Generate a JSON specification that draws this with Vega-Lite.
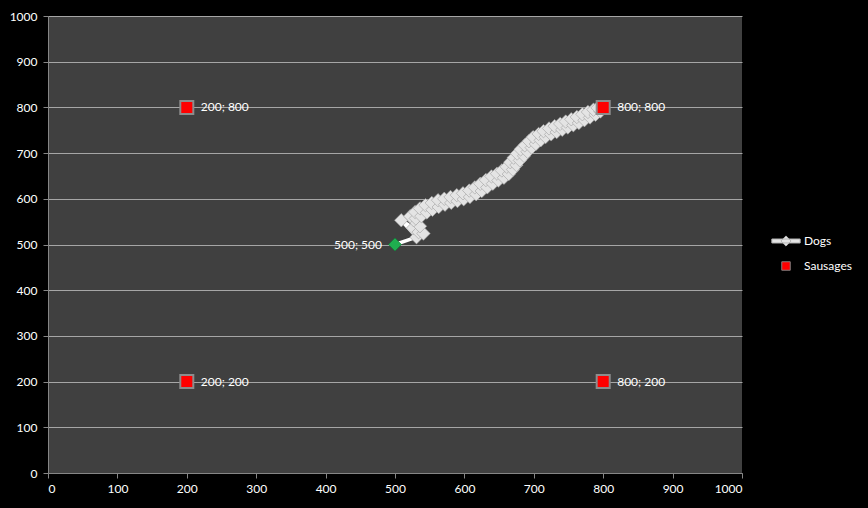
{
  "$schema": "https://vega.github.io/schema/vega-lite/v6.json",
  "width": 694,
  "height": 457,
  "autosize": {"type": "none"},
  "padding": {"left": 48, "top": 16, "right": 126, "bottom": 35},
  "background": "#000000",
  "config": {
    "view": {"fill": "#404040", "stroke": null},
    "font": "Lato",
    "axis": {
      "labelColor": "#ffffff",
      "labelFont": "Lato",
      "labelFontSize": 12,
      "domainColor": "#868686",
      "domainWidth": 1,
      "tickColor": "#868686",
      "tickSize": 5,
      "title": null,
      "format": "d"
    },
    "legend": {
      "title": null,
      "orient": "none",
      "labelColor": "#ffffff",
      "labelFont": "Lato",
      "labelFontSize": 12,
      "labelOffset": 10,
      "symbolSize": 200,
      "symbolOpacity": 1,
      "symbolStrokeWidth": 1
    }
  },
  "datasets": {
    "dogs": [
      {"step": 0, "x": 500, "y": 500},
      {"step": 1, "x": 531, "y": 516},
      {"step": 2, "x": 509, "y": 553},
      {"step": 3, "x": 526, "y": 536},
      {"step": 4, "x": 534, "y": 527},
      {"step": 5, "x": 541, "y": 524},
      {"step": 6, "x": 536, "y": 540},
      {"step": 7, "x": 527, "y": 553},
      {"step": 8, "x": 522, "y": 562},
      {"step": 9, "x": 530, "y": 557},
      {"step": 10, "x": 529, "y": 571},
      {"step": 11, "x": 538, "y": 562},
      {"step": 12, "x": 536, "y": 579},
      {"step": 13, "x": 546, "y": 570},
      {"step": 14, "x": 544, "y": 586},
      {"step": 15, "x": 554, "y": 576},
      {"step": 16, "x": 553, "y": 591},
      {"step": 17, "x": 563, "y": 582},
      {"step": 18, "x": 562, "y": 597},
      {"step": 19, "x": 572, "y": 587},
      {"step": 20, "x": 571, "y": 600},
      {"step": 21, "x": 581, "y": 591},
      {"step": 22, "x": 580, "y": 604},
      {"step": 23, "x": 590, "y": 595},
      {"step": 24, "x": 589, "y": 608},
      {"step": 25, "x": 599, "y": 599},
      {"step": 26, "x": 598, "y": 612},
      {"step": 27, "x": 608, "y": 604},
      {"step": 28, "x": 607, "y": 618},
      {"step": 29, "x": 617, "y": 610},
      {"step": 30, "x": 615, "y": 625},
      {"step": 31, "x": 625, "y": 617},
      {"step": 32, "x": 623, "y": 633},
      {"step": 33, "x": 633, "y": 625},
      {"step": 34, "x": 631, "y": 641},
      {"step": 35, "x": 641, "y": 633},
      {"step": 36, "x": 639, "y": 649},
      {"step": 37, "x": 649, "y": 640},
      {"step": 38, "x": 647, "y": 655},
      {"step": 39, "x": 657, "y": 646},
      {"step": 40, "x": 654, "y": 662},
      {"step": 41, "x": 664, "y": 654},
      {"step": 42, "x": 661, "y": 670},
      {"step": 43, "x": 670, "y": 664},
      {"step": 44, "x": 666, "y": 680},
      {"step": 45, "x": 675, "y": 674},
      {"step": 46, "x": 671, "y": 690},
      {"step": 47, "x": 680, "y": 684},
      {"step": 48, "x": 676, "y": 699},
      {"step": 49, "x": 686, "y": 694},
      {"step": 50, "x": 681, "y": 708},
      {"step": 51, "x": 691, "y": 703},
      {"step": 52, "x": 687, "y": 717},
      {"step": 53, "x": 697, "y": 712},
      {"step": 54, "x": 693, "y": 726},
      {"step": 55, "x": 703, "y": 720},
      {"step": 56, "x": 699, "y": 735},
      {"step": 57, "x": 710, "y": 728},
      {"step": 58, "x": 707, "y": 742},
      {"step": 59, "x": 717, "y": 735},
      {"step": 60, "x": 714, "y": 748},
      {"step": 61, "x": 725, "y": 741},
      {"step": 62, "x": 722, "y": 754},
      {"step": 63, "x": 733, "y": 746},
      {"step": 64, "x": 730, "y": 759},
      {"step": 65, "x": 741, "y": 751},
      {"step": 66, "x": 738, "y": 764},
      {"step": 67, "x": 749, "y": 756},
      {"step": 68, "x": 746, "y": 769},
      {"step": 69, "x": 757, "y": 761},
      {"step": 70, "x": 754, "y": 774},
      {"step": 71, "x": 765, "y": 766},
      {"step": 72, "x": 762, "y": 779},
      {"step": 73, "x": 773, "y": 772},
      {"step": 74, "x": 770, "y": 785},
      {"step": 75, "x": 781, "y": 778},
      {"step": 76, "x": 778, "y": 790},
      {"step": 77, "x": 789, "y": 784},
      {"step": 78, "x": 786, "y": 795},
      {"step": 79, "x": 796, "y": 791},
      {"step": 80, "x": 792, "y": 799},
      {"step": 81, "x": 800, "y": 800}
    ],
    "sausages": [
      {"x": 200, "y": 800},
      {"x": 800, "y": 800},
      {"x": 200, "y": 200},
      {"x": 800, "y": 200}
    ]
  },
  "encoding": {
    "x": {
      "field": "x",
      "type": "quantitative",
      "scale": {"domain": [0, 1000], "nice": false, "zero": true},
      "axis": {"values": [0, 100, 200, 300, 400, 500, 600, 700, 800, 900, 1000], "grid": false, "labelPadding": 5}
    },
    "y": {
      "field": "y",
      "type": "quantitative",
      "scale": {"domain": [0, 1000], "nice": false, "zero": true},
      "axis": {"values": [0, 100, 200, 300, 400, 500, 600, 700, 800, 900, 1000], "grid": true, "gridColor": "#a6a6a6", "gridWidth": 1, "labelPadding": 6}
    }
  },
  "resolve": {"scale": {"color": "independent"}, "legend": {"color": "independent"}},
  "layer": [
    {
      "data": {"name": "dogs"},
      "mark": {"type": "line", "color": "#ffffff", "strokeWidth": 3.5, "strokeJoin": "round"},
      "encoding": {"order": {"field": "step", "type": "quantitative"}}
    },
    {
      "data": {"name": "dogs"},
      "transform": [
        {"filter": "datum.step > 0"},
        {"calculate": "'Dogs'", "as": "series"}
      ],
      "mark": {"type": "point", "shape": "diamond", "filled": true, "size": 180, "opacity": 1, "stroke": "#a0a0a0", "strokeWidth": 0.6},
      "encoding": {
        "color": {
          "field": "series",
          "type": "nominal",
          "scale": {"domain": ["Dogs"], "range": ["#e4e4e4"]},
          "legend": {
            "legendX": 730,
            "legendY": 217,
            "symbolType": "M-2,-0.28H2V0.28H-2Z M0,-0.72L0.72,0L0,0.72L-0.72,0Z",
            "symbolFillColor": "#ffffff",
            "symbolStrokeColor": "#b4b4b4"
          }
        }
      }
    },
    {
      "data": {"name": "dogs"},
      "transform": [{"filter": "datum.step === 0"}],
      "mark": {"type": "point", "shape": "diamond", "filled": true, "size": 170, "opacity": 1, "color": "#1fae4f", "stroke": "#0f7a35", "strokeWidth": 0.6}
    },
    {
      "data": {"name": "dogs"},
      "transform": [
        {"filter": "datum.step === 0"},
        {"calculate": "datum.x + '; ' + datum.y", "as": "label"}
      ],
      "mark": {"type": "text", "align": "right", "baseline": "middle", "dx": -13, "fontSize": 12, "font": "Lato", "color": "#ffffff"},
      "encoding": {"text": {"field": "label"}}
    },
    {
      "data": {"name": "sausages"},
      "transform": [{"calculate": "'Sausages'", "as": "series"}],
      "mark": {"type": "point", "shape": "square", "filled": true, "size": 170, "opacity": 1, "stroke": "#8c8c8c", "strokeWidth": 2},
      "encoding": {
        "color": {
          "field": "series",
          "type": "nominal",
          "scale": {"domain": ["Sausages"], "range": ["#ff0000"]},
          "legend": {
            "legendX": 730,
            "legendY": 242,
            "symbolType": "M-0.6,-0.6H0.6V0.6H-0.6Z",
            "symbolFillColor": "#ff0000",
            "symbolStrokeColor": "#7f7f7f"
          }
        }
      }
    },
    {
      "data": {"name": "sausages"},
      "transform": [{"calculate": "datum.x + '; ' + datum.y", "as": "label"}],
      "mark": {"type": "text", "align": "left", "baseline": "middle", "dx": 14, "fontSize": 12, "font": "Lato", "color": "#ffffff"},
      "encoding": {"text": {"field": "label"}}
    }
  ]
}
